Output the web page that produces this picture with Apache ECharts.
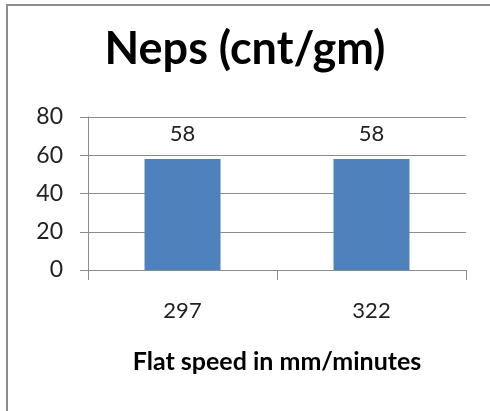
<!DOCTYPE html>
<html>
<head>
<meta charset="utf-8">
<script src="https://cdn.jsdelivr.net/npm/echarts@6/dist/echarts.min.js"></script>
<style>
html,body{margin:0;padding:0;background:#fff;}
#chart{width:490px;height:411px;}
</style>
</head>
<body>
<div id="chart"></div>
<script>
const categories = ['297', '322'];
const nepsValues = [58, 58];
const yTicks = [0, 20, 40, 60, 80];

const FONT = 'Lato';
const chart = echarts.init(document.getElementById('chart'), null, {renderer: 'canvas'});
chart.setOption({
  animation: false,
  backgroundColor: '#ffffff',
  graphic: [{
    type: 'rect',
    shape: {x: 7, y: 5, width: 520, height: 440},
    style: {fill: 'none', stroke: '#8c8c8c', lineWidth: 2},
    silent: true
  }],
  title: {
    text: 'Neps (cnt/gm)',
    left: 'center',
    top: 22,
    textStyle: {fontFamily: FONT, fontSize: 45, fontWeight: 'bold', color: '#000'}
  },
  grid: {left: 88, right: 24, top: 117, bottom: 141, containLabel: false},
  xAxis: {
    type: 'category',
    data: categories,
    boundaryGap: true,
    axisLine: {show: true, lineStyle: {color: '#8c8c8c', width: 1}},
    axisTick: {show: true, length: 10, lineStyle: {color: '#8c8c8c'}},
    axisLabel: {fontFamily: FONT, fontSize: 22, color: '#222', margin: 30},
    name: 'Flat speed in mm/minutes',
    nameLocation: 'middle',
    nameGap: 79,
    nameTextStyle: {fontFamily: FONT, fontSize: 25, fontWeight: 'bold', color: '#000'}
  },
  yAxis: {
    type: 'value',
    min: yTicks[0],
    max: yTicks[yTicks.length - 1],
    interval: yTicks[1] - yTicks[0],
    axisLine: {show: true, lineStyle: {color: '#8c8c8c', width: 1}},
    axisTick: {show: true, length: 8, lineStyle: {color: '#8c8c8c'}},
    axisLabel: {fontFamily: FONT, fontSize: 23, color: '#222', margin: 25},
    splitLine: {show: true, lineStyle: {color: '#8c8c8c', width: 1}}
  },
  series: [{
    type: 'bar',
    data: nepsValues,
    barWidth: 76,
    itemStyle: {color: '#4f81bd'},
    label: {show: true, position: 'top', distance: 14, fontFamily: FONT, fontSize: 22, color: '#222'}
  }]
});
</script>
</body>
</html>
